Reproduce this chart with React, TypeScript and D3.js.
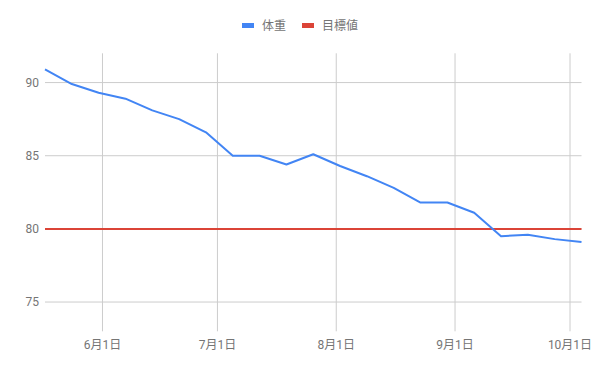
import React from "react";
import * as d3 from "d3";

const dates: string[] = [
  "2020-05-17", "2020-05-24", "2020-05-31", "2020-06-07", "2020-06-14", "2020-06-21", "2020-06-28",
  "2020-07-05", "2020-07-12", "2020-07-19", "2020-07-26", "2020-08-02", "2020-08-09", "2020-08-16",
  "2020-08-23", "2020-08-30", "2020-09-06", "2020-09-13", "2020-09-20", "2020-09-27", "2020-10-04",
];
const weight: number[] = [
  90.9, 89.9, 89.3, 88.9, 88.1, 87.5, 86.6,
  85.0, 85.0, 84.4, 85.1, 84.3, 83.6, 82.8,
  81.8, 81.8, 81.1, 79.5, 79.6, 79.3, 79.1,
];
const target: number[] = dates.map(() => 80);
const yTicks: number[] = [75, 80, 85, 90];
const xTickDates: string[] = ["2020-06-01", "2020-07-01", "2020-08-01", "2020-09-01", "2020-10-01"];
const xTickLabels: string[] = ["6月1日", "7月1日", "8月1日", "9月1日", "10月1日"];
const seriesNames: string[] = ["体重", "目標値"];
const seriesColors: string[] = ["#4285f4", "#db4437"];

const W = 600;
const H = 371;
const FONT = "Roboto, 'Noto Sans CJK JP', sans-serif";

export default function App() {
  const parse = d3.timeParse("%Y-%m-%d");
  const xDates = dates.map((d) => parse(d) as Date);
  const x = d3
    .scaleTime()
    .domain([xDates[0], xDates[xDates.length - 1]])
    .range([45, 581.5]);
  const y = d3.scaleLinear().domain([73, 92]).range([331.3, 53.3]);

  const line = d3
    .line<number>()
    .x((_, i) => x(xDates[i]))
    .y((v) => y(v));

  const [y0, y1] = y.range();
  const [x0, x1] = x.range();

  return (
    <svg
      width={W}
      height={H}
      style={{ position: "absolute", left: 0, top: 0, background: "#fff" }}
      fontFamily={FONT}
    >
      <rect width={W} height={H} fill="#fff" />
      {yTicks.map((t) => (
        <line key={"h" + t} x1={x0} x2={x1} y1={y(t)} y2={y(t)} stroke="#cccccc" strokeWidth={1} />
      ))}
      {xTickDates.map((d) => {
        const xx = x(parse(d) as Date);
        return <line key={"v" + d} x1={xx} x2={xx} y1={y1} y2={y0} stroke="#cccccc" strokeWidth={1} />;
      })}
      {yTicks.map((t) => (
        <text key={"yl" + t} x={39} y={y(t)} dy="0.35em" textAnchor="end" fontSize={12} fill="#757575">
          {t}
        </text>
      ))}
      {xTickDates.map((d, i) => (
        <text key={"xl" + d} x={x(parse(d) as Date)} y={349} textAnchor="middle" fontSize={12} fill="#757575">
          {xTickLabels[i]}
        </text>
      ))}
      <path d={line(target) || ""} fill="none" stroke={seriesColors[1]} strokeWidth={2} />
      <path d={line(weight) || ""} fill="none" stroke={seriesColors[0]} strokeWidth={2} strokeLinejoin="round" />
      <g>
        <rect x={242} y={23} width={12} height={5} fill={seriesColors[0]} />
        <text x={262} y={25.5} dy="0.35em" fontSize={12} fill="#757575">{seriesNames[0]}</text>
        <rect x={302} y={23} width={12} height={5} fill={seriesColors[1]} />
        <text x={322} y={25.5} dy="0.35em" fontSize={12} fill="#757575">{seriesNames[1]}</text>
      </g>
    </svg>
  );
}
